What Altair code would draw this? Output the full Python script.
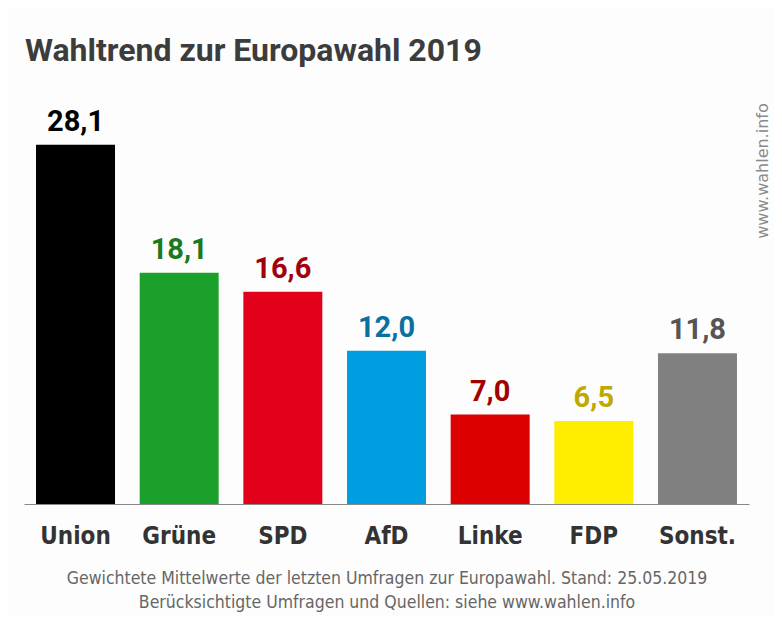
import altair as alt
import pandas as pd

parties = ["Union", "Grüne", "SPD", "AfD", "Linke", "FDP", "Sonst."]
values = [28.1, 18.1, 16.6, 12.0, 7.0, 6.5, 11.8]
bar_colors = ["#000000", "#1ca02c", "#e3001b", "#009ee0", "#dd0000", "#ffed00", "#808080"]
label_colors = ["#000000", "#1a7a1e", "#a3000c", "#0b6fa0", "#a30000", "#bfa800", "#555555"]

title_text = "Wahltrend zur Europawahl 2019"
footer_lines = [
    "Gewichtete Mittelwerte der letzten Umfragen zur Europawahl. Stand: 25.05.2019",
    "Berücksichtigte Umfragen und Quellen: siehe www.wahlen.info",
]
watermark = "www.wahlen.info"

df = pd.DataFrame({
    "party": parties,
    "value": values,
    "label": [f"{v:.1f}".replace(".", ",") for v in values],
    "bar_color": bar_colors,
    "label_color": label_colors,
})

narrow = "DejaVu Sans Condensed, Liberation Sans, sans-serif"

x_enc = alt.X(
    "party:N",
    sort=parties,
    scale=alt.Scale(paddingInner=0.238, paddingOuter=0.116),
    axis=alt.Axis(
        title=footer_lines,
        titleFont=narrow,
        titleFontSize=17.5,
        titleFontWeight="normal",
        titleColor="#666666",
        titleLineHeight=24,
        titlePadding=21,
        labelFont=narrow,
        labelFontSize=24,
        labelFontWeight="bold",
        labelColor="#333333",
        labelPadding=20,
        labelAngle=0,
        ticks=False,
        domainColor="#888888",
        domainWidth=1,
    ),
)
y_enc = alt.Y("value:Q", scale=alt.Scale(domain=[0, 32], nice=False), axis=None)

bars = alt.Chart(df).mark_bar().encode(
    x=x_enc,
    y=y_enc,
    color=alt.Color("bar_color:N", scale=None, legend=None),
)

labels = alt.Chart(df).mark_text(
    font="Roboto", fontSize=29, fontWeight="bold", baseline="alphabetic", dy=-14
).encode(
    x=alt.X("party:N", sort=parties),
    y="value:Q",
    text="label:N",
    color=alt.Color("label_color:N", scale=None, legend=None),
)

wm = alt.Chart(pd.DataFrame({"t": [watermark]})).mark_text(
    font="DejaVu Sans", fontSize=16, color="#8a8a8a", angle=270
).encode(
    text="t:N",
    x=alt.value(739),
    y=alt.value(76),
)

chart = alt.layer(bars, labels, wm).properties(
    width=725,
    height=409,
    padding={"left": 16, "top": 87, "right": 25, "bottom": 112},
    autosize=alt.AutoSizeParams(type="none"),
    background="#fdfdfd",
    title=alt.TitleParams(
        title_text,
        anchor="start",
        font="Roboto",
        fontSize=32,
        fontWeight="bold",
        color="#3c3c3c",
        offset=27,
        dx=1,
    ),
).configure_view(stroke=None)

chart.save("out.html", embed_options={"renderer": "svg", "actions": False})
